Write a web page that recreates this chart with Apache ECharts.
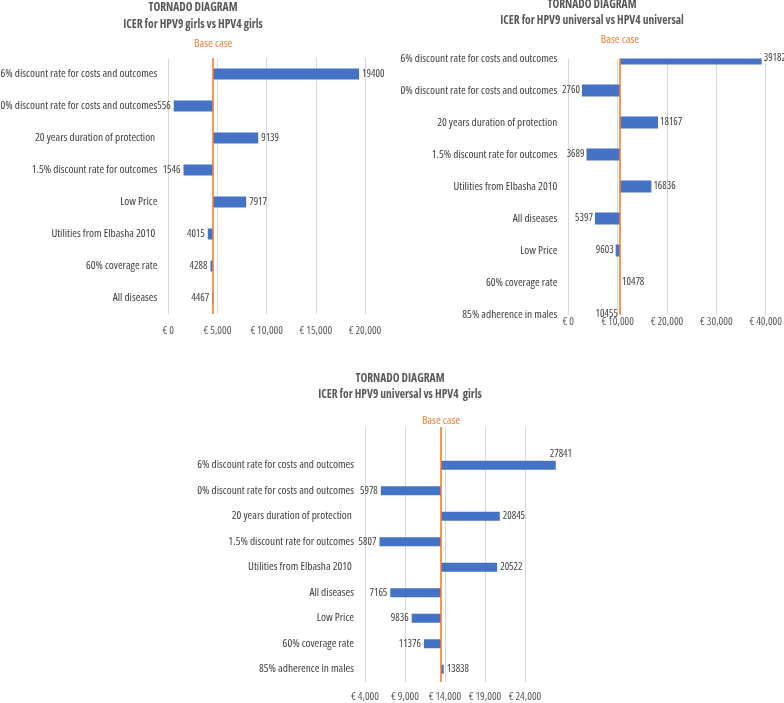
<!DOCTYPE html>
<html>
<head>
<meta charset="utf-8">
<script src="https://cdn.jsdelivr.net/npm/echarts@6/dist/echarts.min.js"></script>
<style>html,body{margin:0;padding:0;background:#fff;}#c{width:784px;height:703px;}</style>
</head>
<body>
<div id="c"></div>
<script>
// ---- Data ----
const catsA = ['6% discount rate for costs and outcomes', '0% discount rate for costs and outcomes', '20 years duration of protection ', '1.5% discount rate for outcomes', 'Low Price', 'Utilities from Elbasha 2010 ', '60% coverage rate', 'All diseases'];
const valsA = [19400, 556, 9139, 1546, 7917, 4015, 4288, 4467];
const baseA = 4560;
const ticksA = [0, 5000, 10000, 15000, 20000];

const catsB = ['6% discount rate for costs and outcomes', '0% discount rate for costs and outcomes', '20 years duration of protection', '1.5% discount rate for outcomes', 'Utilities from Elbasha 2010', 'All diseases', 'Low Price', '60% coverage rate', '85% adherence in males'];
const valsB = [39182, 2760, 18167, 3689, 16836, 5397, 9603, 10478, 10455];
const baseB = 10466;
const ticksB = [0, 10000, 20000, 30000, 40000];

const catsC = ['', '6% discount rate for costs and outcomes', '0% discount rate for costs and outcomes', '20 years duration of protection ', '1.5% discount rate for outcomes', 'Utilities from Elbasha 2010 ', 'All diseases', 'Low Price', '60% coverage rate', '85% adherence in males'];
const valsC = [null, 27841, 5978, 20845, 5807, 20522, 7165, 9836, 11376, 13838];
const baseC = 13500;
const ticksC = [4000, 9000, 14000, 19000, 24000, 29000];

const titlesA = ['TORNADO DIAGRAM', 'ICER for HPV9 girls vs HPV4 girls'];
const titlesB = ['TORNADO DIAGRAM', 'ICER for HPV9 universal vs HPV4 universal'];
const titlesC = ['TORNADO DIAGRAM', 'ICER for HPV9 universal vs HPV4  girls'];

// ---- Styling ----
const FONT = "'Open Sans', 'Liberation Sans', sans-serif";
const STRETCH = 'condensed';
const FS = 11.3;      // category labels
const FS_VAL = 10.5;  // value labels
const FS_AX = 11;     // axis tick labels
const WEIGHT = '500';
const BAR = '#4472C4';
const ORANGE = '#ED7D31';
const TXT = '#404040';
const AX = '#595959';
const GRID = '#D9D9D9';

function fmtEuro(v) {
  return '€ ' + String(v).replace(/\B(?=(\d{3})+(?!\d))/g, ',');
}

const chart = echarts.init(document.getElementById('c'), null, {renderer: 'canvas'});

const gridBase = {containLabel: false, outerBoundsMode: 'none'};
const grids = [
  Object.assign({left: 168.3, right: 784 - 365, top: 58, bottom: 703 - 314}, gridBase),
  Object.assign({left: 568.3, right: 784 - 765.7, top: 58.5, bottom: 703 - 314.5}, gridBase),
  Object.assign({left: 365, right: 784 - 565, top: 427, bottom: 703 - 682}, gridBase)
];

const txt = (color, size) => ({color: color, fontSize: size || FS, fontFamily: FONT, fontStyle: STRETCH, fontWeight: WEIGHT});

function xAxisFor(i, ticks, margin, showMax) {
  return {
    type: 'value', gridIndex: i,
    min: ticks[0], max: ticks[ticks.length - 1], interval: ticks[1] - ticks[0],
    axisLine: {show: false}, axisTick: {show: false},
    splitLine: {show: true, showMaxLine: showMax, lineStyle: {color: GRID, width: 1}},
    axisLabel: Object.assign(txt(AX, FS_AX), {formatter: fmtEuro, margin: margin, showMaxLabel: showMax, hideOverlap: false})
  };
}
function yAxisFor(i, cats, shift, boundaryGap) {
  return {
    type: 'category', gridIndex: i, data: cats, inverse: true, boundaryGap: boundaryGap,
    axisLine: {show: false}, axisTick: {show: false}, splitLine: {show: false},
    axisLabel: Object.assign(txt(TXT), {margin: 11, padding: [shift * 2, 0, 0, 0], interval: 0})
  };
}

function baseLine(base, dist) {
  return {silent: true, symbol: 'none', animation: false,
    lineStyle: {color: ORANGE, width: 1.6, type: 'solid'},
    label: Object.assign(txt(ORANGE, 11.5), {show: true, position: 'start', formatter: 'Base case', distance: dist}),
    data: [{xAxis: base}]};
}

// stacked bars (invisible offset + visible deviation from base case)
function seriesFor(i, vals, base, barWidth, baseLabelDist, overrides) {
  const lows = vals.map(v => v == null ? null : Math.min(v, base));
  const lens = vals.map((v, j) => {
    if (v == null) return null;
    const item = {value: Math.abs(v - base), label: {position: v >= base ? 'right' : 'left'}};
    if (overrides && overrides[j]) item.label = Object.assign(item.label, overrides[j]);
    return item;
  });
  return [
    {type: 'bar', xAxisIndex: i, yAxisIndex: i, stack: 's' + i, data: lows, barWidth: barWidth,
     itemStyle: {color: 'rgba(0,0,0,0)'}, silent: true, label: {show: false}, animation: false},
    {type: 'bar', xAxisIndex: i, yAxisIndex: i, stack: 's' + i, data: lens, barWidth: barWidth,
     itemStyle: {color: BAR}, animation: false,
     label: Object.assign(txt(TXT, FS_VAL), {show: true, distance: 3,
             formatter: p => vals[p.dataIndex] == null ? '' : String(vals[p.dataIndex])}),
     markLine: baseLine(base, baseLabelDist)}
  ];
}

// custom bars clipped to the plot area (top bar is cut by the plot edge in the reference)
function clippedSeriesFor(i, vals, base, barH, baseLabelDist) {
  const data = vals.map((v, j) => [j, Math.min(v, base), Math.max(v, base), v]);
  const font = STRETCH + ' ' + WEIGHT + ' ' + FS_VAL + 'px ' + FONT;
  return [
    {type: 'custom', xAxisIndex: i, yAxisIndex: i, data: data, encode: {x: [1, 2], y: 0}, animation: false, silent: true,
     renderItem: function (params, api) {
       const idx = api.value(0), lo = api.value(1), hi = api.value(2), v = api.value(3);
       const p0 = api.coord([lo, idx]), p1 = api.coord([hi, idx]);
       const full = {x: p0[0], y: p0[1] - barH / 2, width: Math.max(p1[0] - p0[0], 0.01), height: barH};
       const cs = params.coordSys;
       const clipped = echarts.graphic.clipRectByRect(full, {x: cs.x, y: cs.y, width: cs.width, height: cs.height});
       const children = [];
       if (clipped) children.push({type: 'rect', shape: clipped, style: {fill: BAR}});
       children.push({type: 'rect', shape: full, style: {fill: 'rgba(0,0,0,0)'},
         textContent: {style: {text: String(v), fill: TXT, font: font}},
         textConfig: {position: v >= base ? 'right' : 'left', distance: 2}});
       return {type: 'group', children: children};
     }},
    {type: 'bar', xAxisIndex: i, yAxisIndex: i, data: [], markLine: baseLine(base, baseLabelDist), animation: false}
  ];
}

function titleGraphics(lines, cx, y0, lh) {
  return lines.map((t, k) => ({
    type: 'text', x: cx, y: y0 + k * lh, silent: true,
    style: {text: t, fill: AX, font: STRETCH + ' bold 11.5px ' + FONT, align: 'center', verticalAlign: 'middle'}
  }));
}

const option = {
  animation: false,
  grid: grids,
  xAxis: [xAxisFor(0, ticksA, 11, true), xAxisFor(1, ticksB, 2, true), xAxisFor(2, ticksC, 9, false)],
  yAxis: [yAxisFor(0, catsA, 8.5, true), yAxisFor(1, catsB, 7.5, false), yAxisFor(2, catsC, 5, true)],
  series: [].concat(
    seriesFor(0, valsA, baseA, 11, 8, null),
    clippedSeriesFor(1, valsB, baseB, 12, 13),
    seriesFor(2, valsC, baseC, 9, 0, {1: {position: 'right', offset: [-9, -11]}})
  ),
  graphic: [].concat(
    titleGraphics(titlesA, 193, 8, 17),
    titleGraphics(titlesB, 592, 5, 16),
    titleGraphics(titlesC, 400, 379, 15.5)
  )
};
chart.setOption(option);
</script>
</body>
</html>
